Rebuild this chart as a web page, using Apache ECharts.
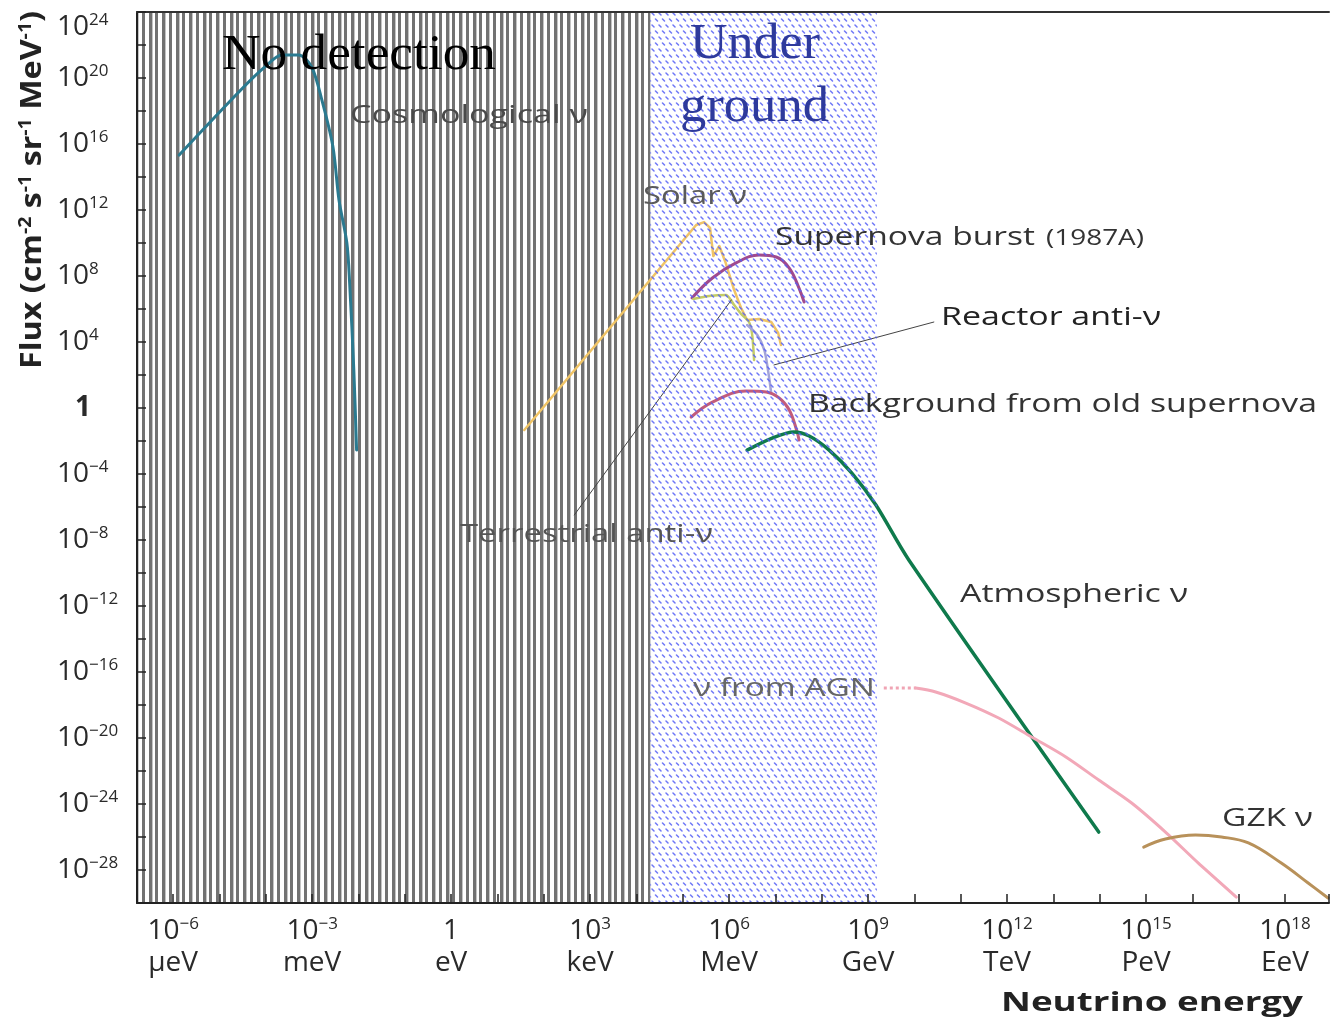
<!DOCTYPE html>
<html><head><meta charset="utf-8">
<script src="https://cdn.jsdelivr.net/npm/echarts@6/dist/echarts.min.js"></script>
<style>html,body{margin:0;padding:0;background:#fff}#c{width:1332px;height:1023px}</style>
</head><body><div id="c"></div>
<script>
// ---- Data: log10(energy / eV) and log10(flux / cm^-2 s^-1 sr^-1 MeV^-1) ----
const xTickExponents = [-6, -3, 0, 3, 6, 9, 12, 15, 18];
const xTickUnits = ['μeV', 'meV', 'eV', 'keV', 'MeV', 'GeV', 'TeV', 'PeV', 'EeV'];
const yTickExponents = [24, 20, 16, 12, 8, 4, 0, -4, -8, -12, -16, -20, -24, -28];
const xRange = [-6.78, 18.95];
const yRange = [-30, 24];
const noDetectionRange = [-6.78, 4.30];
const undergroundRange = [4.30, 9.19];

const cosmologicalNu = [[-5.87,15.33],[-4.54,19.27],[-4.02,20.67],[-3.65,21.39],[-3.29,21.39],[-3.01,20.67],[-2.79,18.67],[-2.55,15.82],[-2.42,12.61],[-2.25,10.0],[-2.19,7.58],[-2.10,2.3],[-2.04,-2.55]];
const solarNu = [[1.58,-1.33],[5.29,11.09],[5.46,11.27],[5.59,10.91],[5.66,9.21],[5.79,9.82],[5.92,8.85],[6.11,7.15],[6.26,6.06],[6.39,5.33],[6.65,5.39],[6.91,5.21],[7.06,4.55],[7.12,3.82]];
const supernovaBurst = [[5.20,6.67],[5.64,7.88],[6.15,8.79],[6.65,9.27],[7.02,9.15],[7.30,8.48],[7.51,7.27],[7.62,6.42]];
const reactorAntiNu = [[5.23,6.61],[5.57,6.79],[5.94,6.85],[6.11,6.24],[6.26,5.70],[6.43,5.21],[6.50,4.42],[6.54,2.91]];
const terrestrialAntiNu = [[6.39,5.03],[6.61,4.42],[6.76,3.52],[6.84,2.30],[6.91,0.91]];
const oldSupernovaBackground = [[5.18,-0.55],[5.64,0.36],[6.37,1.03],[6.80,0.97],[7.08,0.61],[7.30,-0.12],[7.47,-1.45],[7.51,-1.94]];
const atmosphericNu = [[6.39,-2.55],[6.93,-1.82],[7.40,-1.45],[7.73,-1.70],[8.16,-2.55],[8.65,-3.94],[9.17,-5.88],[9.88,-9.21],[13.98,-25.70]];
const agnNuDotted = [[9.34,-16.97],[10.03,-16.97]];
const agnNu = [[10.03,-16.97],[10.46,-17.21],[11.11,-17.88],[11.82,-18.79],[12.53,-19.94],[13.27,-21.15],[13.98,-22.55],[14.69,-23.94],[15.42,-25.70],[16.13,-27.58],[16.95,-29.64]];
const gzkNu = [[14.95,-26.61],[15.42,-26.12],[16.07,-25.88],[16.63,-26.0],[17.21,-26.36],[17.92,-27.58],[18.50,-28.79],[18.93,-29.70]];
const reactorLeader = [[6.97,2.61],[10.42,5.21]];
const terrestrialLeader = [[2.66,-6.48],[6.05,6.55]];

// ---- Styling helpers ----
const SANS = '"Open Sans", "Noto Sans", sans-serif';
const SERIF = '"Liberation Serif", "Times New Roman", serif';
const TXT = '#2a2a2a';

function stripeCanvas() {
  const c = document.createElement('canvas'); c.width = 27; c.height = 4;
  const g = c.getContext('2d');
  g.fillStyle = '#ffffff'; g.fillRect(0, 0, 27, 4);
  g.fillStyle = '#727272';
  [[0,3],[7,3],[14,3],[20,3]].forEach(function (s) { g.fillRect(s[0], 0, s[1], 4); });
  g.fillStyle = '#c4c4c4';
  [[3,1],[17,1]].forEach(function (s) { g.fillRect(s[0], 0, s[1], 4); });
  return c;
}
function hatchCanvas() {
  const c = document.createElement('canvas'); c.width = 14; c.height = 12;
  const g = c.getContext('2d');
  g.strokeStyle = 'rgba(85,95,245,0.85)'; g.lineWidth = 1.5; g.lineCap = 'round';
  g.beginPath();
  [[1,1],[8,1],[4.5,7],[11.5,7]].forEach(function (p) { g.moveTo(p[0], p[1]); g.lineTo(p[0] + 2, p[1] + 2); });
  g.moveTo(-2.5, 7); g.lineTo(-0.5, 9);
  g.stroke();
  return c;
}

const mctx = document.createElement('canvas').getContext('2d');
function tw(t, weight, size, family) { mctx.font = weight + ' ' + size + 'px ' + family; return mctx.measureText(t).width; }
function fitText(text, left, right, cy, size, color, family, weight) {
  weight = weight || 'normal';
  const w = tw(text, weight, size, family);
  return { type: 'text', x: left, y: cy, z: 100, silent: true, scaleX: (right - left) / w,
    style: { text: text, fill: color, fontSize: size, fontFamily: family, fontWeight: weight, align: 'left', verticalAlign: 'middle' } };
}

function sup(n) { return n < 0 ? '−' + (-n) : String(n); }

function fmtX(v) {
  const n = Math.round(v);
  if (Math.abs(v - n) > 1e-6) return '';
  const i = xTickExponents.indexOf(n);
  if (i < 0) return '';
  const top = n === 0 ? '{b|1}' : '{b|10}{s|' + sup(n) + '}';
  return top + '\n{u|' + xTickUnits[i] + '}';
}
function fmtY(v) {
  const n = Math.round(v);
  if (Math.abs(v - n) > 1e-6) return '';
  if (yTickExponents.indexOf(n) < 0) return '';
  if (n === 0) return '{one|1}';
  return '{b|10}{s|' + sup(n) + '}';
}

function curve(name, data, color, width, smooth, extra) {
  return Object.assign({ type: 'line', name: name, data: data, symbol: 'none', showSymbol: false,
    smooth: smooth, z: 2, silent: true, lineStyle: { color: color, width: width, cap: 'round', join: 'round' } }, extra || {});
}

// Flux axis title (rotated rich text)
const fluxParts = [['Flux (cm','a'],['-2','s'],[' s','a'],['-1','s'],[' sr','a'],['-1','s'],[' MeV','a'],['-1','s'],[')','a']];
let fluxW = 0;
fluxParts.forEach(function (p) { fluxW += p[1] === 'a' ? tw(p[0], 'bold', 28, SANS) : tw(p[0], 'bold', 17, SANS); });
const fluxTitle = { type: 'text', x: 33, y: 190, rotation: Math.PI / 2, z: 100, silent: true, scaleX: 358 / fluxW,
  style: { text: fluxParts.map(function (p) { return '{' + p[1] + '|' + p[0] + '}'; }).join(''),
    fill: '#222', align: 'center', verticalAlign: 'middle',
    rich: { a: { fontSize: 28, fontWeight: 'bold', fontFamily: SANS, fill: '#222', color: '#222', lineHeight: 30 },
            s: { fontSize: 17, fontWeight: 'bold', fontFamily: SANS, fill: '#222', color: '#222', lineHeight: 22, verticalAlign: 'top' } } } };

const chart = echarts.init(document.getElementById('c'));
const option = {
  animation: false,
  backgroundColor: '#ffffff',
  grid: { left: 137, right: 1, top: 12, bottom: 120 },
  xAxis: [{
    type: 'value', min: xRange[0], max: xRange[1], splitNumber: 26, minInterval: 1, maxInterval: 1, z: 10,
    axisLine: { show: true, onZero: false, lineStyle: { color: '#222', width: 2 } },
    axisTick: { show: true, inside: true, length: 9, lineStyle: { color: '#222', width: 1.5 } },
    splitLine: { show: false },
    axisLabel: { show: true, interval: 0, hideOverlap: false, margin: 13, formatter: fmtX, color: TXT,
      rich: { b: { fontSize: 28, fontFamily: SANS, color: TXT, lineHeight: 30 },
              s: { fontSize: 17, fontFamily: SANS, color: TXT, lineHeight: 22, verticalAlign: 'top' },
              u: { fontSize: 28, fontFamily: SANS, color: TXT, lineHeight: 34 } } }
  }, {
    type: 'value', position: 'top', min: xRange[0], max: xRange[1], z: 10,
    axisLine: { show: true, onZero: false, lineStyle: { color: '#333', width: 2 } },
    axisTick: { show: false }, axisLabel: { show: false }, splitLine: { show: false }
  }],
  yAxis: [{
    type: 'value', min: yRange[0], max: yRange[1], interval: 2, z: 10,
    axisLine: { show: true, onZero: false, lineStyle: { color: '#222', width: 2 } },
    axisTick: { show: true, inside: true, length: 9, lineStyle: { color: '#222', width: 1.5 } },
    splitLine: { show: false },
    axisLabel: { show: true, interval: 0, hideOverlap: false, align: 'left', margin: 80, formatter: fmtY, color: TXT,
      verticalAlignMaxLabel: 'top',
      rich: { b: { fontSize: 28, fontFamily: SANS, color: TXT, lineHeight: 30 },
              s: { fontSize: 17, fontFamily: SANS, color: TXT, lineHeight: 22, verticalAlign: 'top' },
              one: { fontSize: 28, fontFamily: SANS, fontWeight: 'bold', color: TXT, lineHeight: 30, padding: [0, 0, 0, 18] } } }
  }],
  series: [
    { type: 'line', name: 'No detection', data: [], silent: true,
      markArea: { silent: true, z: 1, label: { show: false },
        itemStyle: { color: { image: stripeCanvas(), repeat: 'repeat' }, borderWidth: 0 },
        data: [[{ xAxis: noDetectionRange[0] }, { xAxis: noDetectionRange[1] }]] } },
    curve('Cosmological ν', cosmologicalNu, '#2b7a90', 3, 0.3),
    curve('Solar ν', solarNu, '#f0c466', 2.5, false),
    curve('Supernova burst (1987A)', supernovaBurst, '#a04a8e', 3, 0.4),
    curve('Reactor anti-ν', reactorAntiNu, '#c4cc66', 2.5, 0.2),
    curve('Terrestrial anti-ν', terrestrialAntiNu, '#a4a4d8', 2.5, 0.3),
    curve('Background from old supernova', oldSupernovaBackground, '#c25c7c', 3, 0.4),
    curve('Atmospheric ν', atmosphericNu, '#0f7a4c', 3.5, 0.3),
    curve('ν from AGN (dotted)', agnNuDotted, '#f0a4b4', 3, false, { lineStyle: { color: '#f0a4b4', width: 3, type: 'dotted' } }),
    curve('ν from AGN', agnNu, '#f2a8b8', 3, 0.3),
    curve('GZK ν', gzkNu, '#b8915a', 3, 0.4),
    curve('Reactor leader', reactorLeader, '#444', 1, false),
    curve('Terrestrial leader', terrestrialLeader, '#444', 1, false),
    { type: 'line', name: 'Under ground', data: [], silent: true,
      markArea: { silent: true, z: 3, label: { show: false },
        itemStyle: { color: { image: hatchCanvas(), repeat: 'repeat' }, borderWidth: 0 },
        data: [[{ xAxis: undergroundRange[0] }, { xAxis: undergroundRange[1] }]] } }
  ],
  graphic: { elements: [
    fluxTitle,
    fitText('Neutrino energy', 1001, 1303, 1003, 27, '#222', SANS, 'bold'),
    fitText('No detection', 222, 496, 56, 50, '#000', SERIF),
    fitText('Under', 690, 820, 45, 50, '#2e3a9c', SERIF),
    fitText('ground', 680, 829, 108, 50, '#2e3a9c', SERIF),
    fitText('Cosmological ν', 350, 588, 116, 26, '#4a4a4a', SANS),
    fitText('Solar ν', 643, 747, 197, 26, '#5a5a5a', SANS),
    fitText('Supernova burst', 775, 1035, 238, 26, '#333', SANS),
    fitText('(1987A)', 1046, 1144, 239, 21, '#333', SANS),
    fitText('Reactor anti-ν', 941, 1161, 318, 26, '#222', SANS),
    fitText('Background from old supernova', 808, 1317, 405, 26, '#333', SANS),
    fitText('Terrestrial anti-ν', 460, 713, 535, 26, '#555', SANS),
    fitText('Atmospheric ν', 960, 1188, 595, 26, '#333', SANS),
    fitText('ν from AGN', 693, 875, 689, 26, '#666', SANS),
    fitText('GZK ν', 1222, 1313, 819, 26, '#333', SANS)
  ] }
};
chart.setOption(option);
</script>
</body></html>
